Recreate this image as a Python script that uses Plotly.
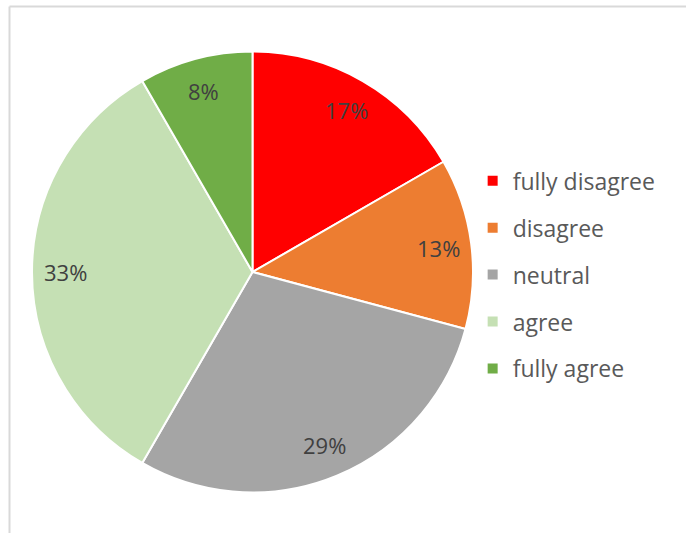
import math
import plotly.graph_objects as go

categories = ["fully disagree", "disagree", "neutral", "agree", "fully agree"]
values = [4, 3, 7, 8, 2]
colors = ["#FF0000", "#ED7D31", "#A5A5A5", "#C5E0B4", "#70AD47"]

W, H = 686, 533
# pie domain in pixels
PX0, PX1 = 32, 473
PY0, PY1 = 51, 493  # from top

fig = go.Figure()
fig.add_trace(go.Pie(
    labels=categories, values=values, sort=False, direction="clockwise",
    rotation=0, marker=dict(colors=colors, line=dict(color="white", width=2)),
    textinfo="none", showlegend=False, hoverinfo="label+percent",
    domain=dict(x=[PX0 / W, PX1 / W], y=[1 - PY1 / H, 1 - PY0 / H]),
))

# legend entries (one group per category so spacing can be set)
for c, col in zip(categories, colors):
    fig.add_trace(go.Scatter(
        x=[None], y=[None], mode="markers", name=c, legendgroup=c,
        marker=dict(symbol="square", size=10, color=col),
        hoverinfo="skip",
    ))

# percentage labels placed at a radial fraction of the slice mid-angle
cx, cy = (PX0 + PX1) / 2, (PY0 + PY1) / 2
R = min(PX1 - PX0, PY1 - PY0) / 2
total = sum(values)
cum = 0
annotations = []
for v in values:
    mid = (cum + v / 2) / total
    cum += v
    a = 2 * math.pi * mid
    px = cx + 0.85 * R * math.sin(a)
    py = cy - 0.85 * R * math.cos(a)
    pct = math.floor(100 * v / total + 0.5)
    annotations.append(dict(
        x=px / W, y=1 - py / H, xref="paper", yref="paper",
        text=f"{pct}%", showarrow=False,
        font=dict(family="Open Sans", size=22, color="#404040"),
        xanchor="center", yanchor="middle",
    ))

shapes = [
    dict(type="line", xref="paper", yref="paper", x0=9.5 / W, x1=1, y0=1 - 6.5 / H, y1=1 - 6.5 / H,
         line=dict(color="#D9D9D9", width=2)),
    dict(type="line", xref="paper", yref="paper", x0=9.5 / W, x1=9.5 / W, y0=0, y1=1 - 6.5 / H,
         line=dict(color="#D9D9D9", width=2)),
]

fig.update_layout(
    width=W, height=H, margin=dict(l=0, r=0, t=0, b=0),
    paper_bgcolor="white", plot_bgcolor="white",
    xaxis=dict(visible=False), yaxis=dict(visible=False),
    legend=dict(x=0.689, y=0.701, xanchor="left", yanchor="top",
                font=dict(family="Open Sans", size=23, color="#595959"),
                traceorder="grouped", tracegroupgap=14, bgcolor="rgba(0,0,0,0)"),
    annotations=annotations, shapes=shapes,
)

fig.write_html("out.html", config={"displayModeBar": False},
               post_script="document.body.style.margin='0';")
